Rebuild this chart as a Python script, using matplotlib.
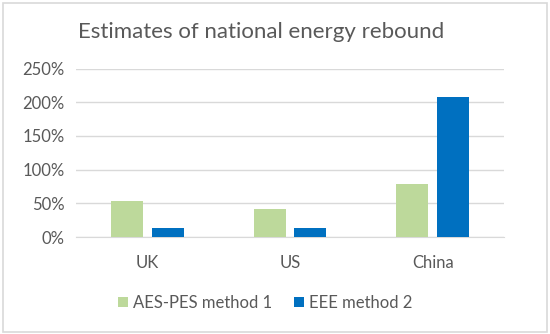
import matplotlib
matplotlib.use("Agg")
import matplotlib.pyplot as plt
import numpy as np
from matplotlib.ticker import FuncFormatter
from matplotlib.patches import Rectangle

categories = ["UK", "US", "China"]
series_names = ["AES-PES method 1", "EEE method 2"]
aes_pes = [54, 41, 78]
eee = [14, 14, 208]
yticks = [0, 50, 100, 150, 200, 250]

plt.rcParams['font.family'] = ['Lato', 'DejaVu Sans']
txt = '#595959'

fig = plt.figure(figsize=(5.5, 3.34), dpi=100)
fig.patches.append(Rectangle((0.006, 0.006), 0.988, 0.985, transform=fig.transFigure,
                             fill=False, edgecolor='#D9D9D9', linewidth=1.2))
ax = fig.add_axes([76/550, 1-237/334, 428/550, (237-68.5)/334])

x = np.arange(len(categories))
w = 0.224
ax.bar(x - 0.142, aes_pes, width=w, color='#BDD99B', label=series_names[0], zorder=3)
ax.bar(x + 0.142, eee, width=w, color='#0070C0', label=series_names[1], zorder=3)

ax.set_xlim(-0.5, 2.5)
ax.set_ylim(0, 250)
ax.set_yticks(yticks)
ax.yaxis.set_major_formatter(FuncFormatter(lambda v, p: f"{int(v)}%"))
ax.set_xticks(x)
ax.set_xticklabels(categories)
ax.grid(axis='y', color='#D9D9D9', linewidth=1, zorder=0)
for s in ['top', 'right', 'left']:
    ax.spines[s].set_visible(False)
ax.spines['bottom'].set_color('#D9D9D9')
ax.tick_params(axis='both', length=0, labelsize=12, colors=txt)
ax.tick_params(axis='x', pad=13)
ax.tick_params(axis='y', pad=8)

fig.text(261/550, 1-32/334, "Estimates of national energy rebound", ha='center', va='center',
         fontsize=16, color=txt)

leg = fig.legend(loc='center', bbox_to_anchor=(265/550, 1-303/334), ncol=2, frameon=False,
                 fontsize=12, labelcolor=txt, handlelength=0.6, handleheight=0.6,
                 handletextpad=0.3, columnspacing=1.3)

fig.savefig("out.png", dpi=100)
